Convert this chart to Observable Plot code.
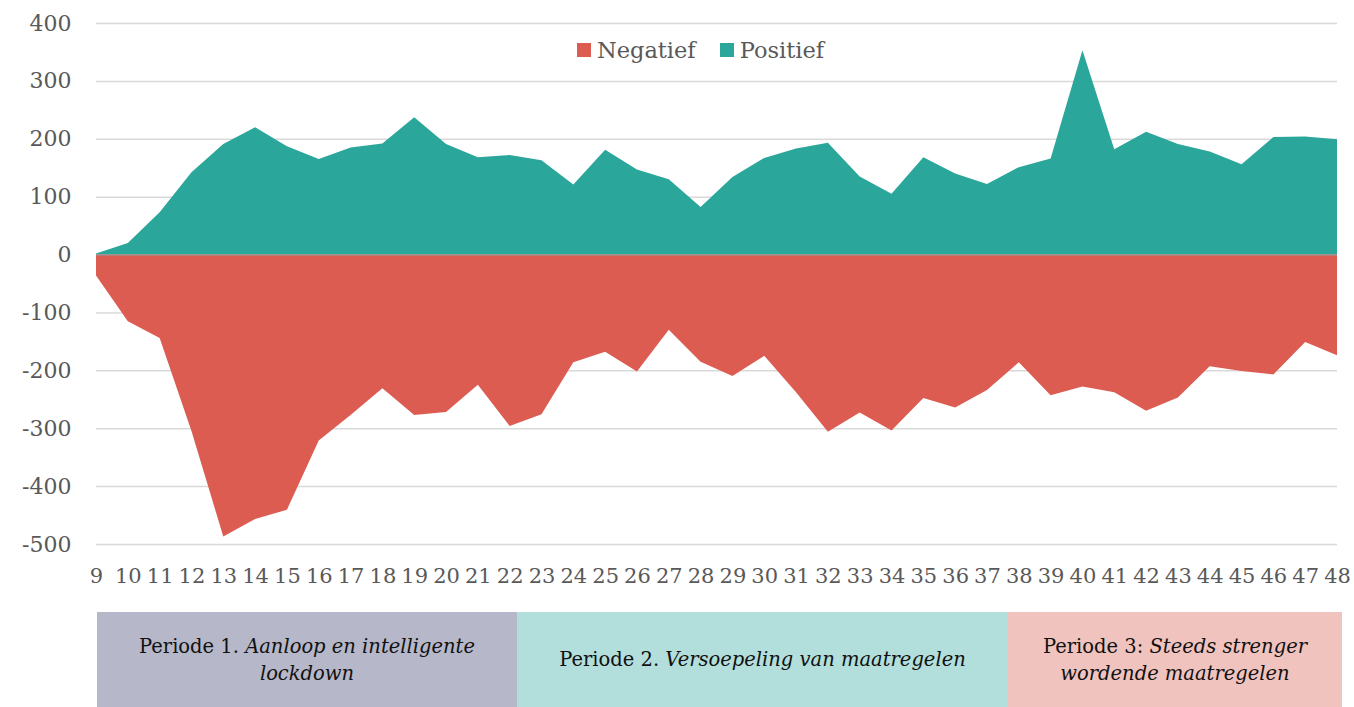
<!DOCTYPE html>
<html>
<head>
<meta charset="utf-8">
<script src="https://cdn.jsdelivr.net/npm/d3@7"></script>
<script src="https://cdn.jsdelivr.net/npm/@observablehq/plot@0.6"></script>
<style>
  html, body { margin: 0; padding: 0; background: #fff; }
  #wrap { position: relative; width: 1354px; height: 707px; font-family: "DejaVu Serif", serif; }
  #chart svg { display: block; }
  #legend { position: absolute; top: 37px; left: 577px; display: flex; align-items: center; font-size: 22.5px; color: #595959; }
  #legend .sw { display: inline-block; width: 14px; height: 14px; margin-right: 6px; }
  #legend .item { display: flex; align-items: center; margin-right: 24px; }
  .box { position: absolute; top: 612px; height: 95px; display: flex; align-items: center; justify-content: center; text-align: center; font-size: 19.5px; line-height: 27px; color: #111; }
  .box i { font-style: italic; }
  .yax text { font-size: 22px; }
  .xax text { font-size: 21px; }
</style>
</head>
<body>
<div id="wrap">
  <div id="chart"></div>
  <div id="legend"></div>
  <div id="boxes"></div>
</div>
<script>
// Weeks (x categories / tick labels)
const weeks = [9,10,11,12,13,14,15,16,17,18,19,20,21,22,23,24,25,26,27,28,29,30,31,32,33,34,35,36,37,38,39,40,41,42,43,44,45,46,47,48];
// Series values
const positief = [2,20,73,142,191,220,187,165,185,192,237,191,168,172,163,121,181,147,130,82,134,167,183,193,135,105,168,140,122,151,166,353,182,212,191,178,156,203,204,199];
const negatief = [-36,-115,-144,-305,-487,-457,-441,-321,-277,-231,-277,-272,-225,-296,-276,-186,-168,-202,-130,-185,-210,-175,-238,-306,-273,-304,-248,-264,-234,-186,-243,-228,-238,-270,-247,-193,-201,-207,-151,-174];
// Y tick labels
const yTicks = [-500,-400,-300,-200,-100,0,100,200,300,400];
// Legend
const seriesNames = ["Negatief", "Positief"];
const seriesColors = ["#DD5C52", "#2BA69B"];
// Period boxes
const periods = [
  { html: 'Periode 1. <i>Aanloop en intelligente<br>lockdown</i>', color: "#B6B7C8" },
  { html: 'Periode 2. <i>Versoepeling van maatregelen</i>', color: "#B2DFDC" },
  { html: 'Periode 3: <i>Steeds strenger<br>wordende maatregelen</i>', color: "#F0C3BF" }
];

const rows = weeks.map((w, i) => ({ week: w, pos: positief[i], neg: negatief[i] }));

const chart = Plot.plot({
  width: 1354,
  height: 600,
  marginLeft: 96,
  marginRight: 17,
  marginTop: 23,
  marginBottom: 56,
  style: { fontFamily: "DejaVu Serif, serif", fontSize: "20px", color: "#595959", background: "#fff" },
  x: { domain: [9, 48], axis: null },
  y: { domain: [-500, 400], axis: null },
  marks: [
    Plot.ruleY(yTicks, { stroke: "#d9d9d9", strokeWidth: 1.5, strokeOpacity: 1 }),
    Plot.areaY(rows, { x: "week", y1: 0, y2: "pos", fill: seriesColors[1], fillOpacity: 1 }),
    Plot.areaY(rows, { x: "week", y1: 0, y2: "neg", fill: seriesColors[0], fillOpacity: 1 }),
    Plot.ruleY([0], { stroke: "#8f9c9a", strokeWidth: 1 }),
    Plot.axisY(yTicks, { tickFormat: d => String(d), tickSize: 0, tickPadding: 25, label: null, className: "yax", fill: "#595959" }),
    Plot.axisX(weeks, { tickFormat: d => String(d), tickSize: 0, tickPadding: 24, label: null, className: "xax", fill: "#595959" })
  ]
});
document.getElementById("chart").appendChild(chart);

// Legend
const legend = document.getElementById("legend");
seriesNames.forEach((n, i) => {
  const item = document.createElement("div");
  item.className = "item";
  item.innerHTML = `<span class="sw" style="background:${seriesColors[i]}"></span><span>${n}</span>`;
  legend.appendChild(item);
});

// Period boxes
const boxLefts = [97, 517, 1008];
const boxWidths = [420, 491, 334];
const boxes = document.getElementById("boxes");
periods.forEach((p, i) => {
  const d = document.createElement("div");
  d.className = "box";
  d.style.left = boxLefts[i] + "px";
  d.style.width = boxWidths[i] + "px";
  d.style.background = p.color;
  d.innerHTML = `<span>${p.html}</span>`;
  boxes.appendChild(d);
});
</script>
</body>
</html>
